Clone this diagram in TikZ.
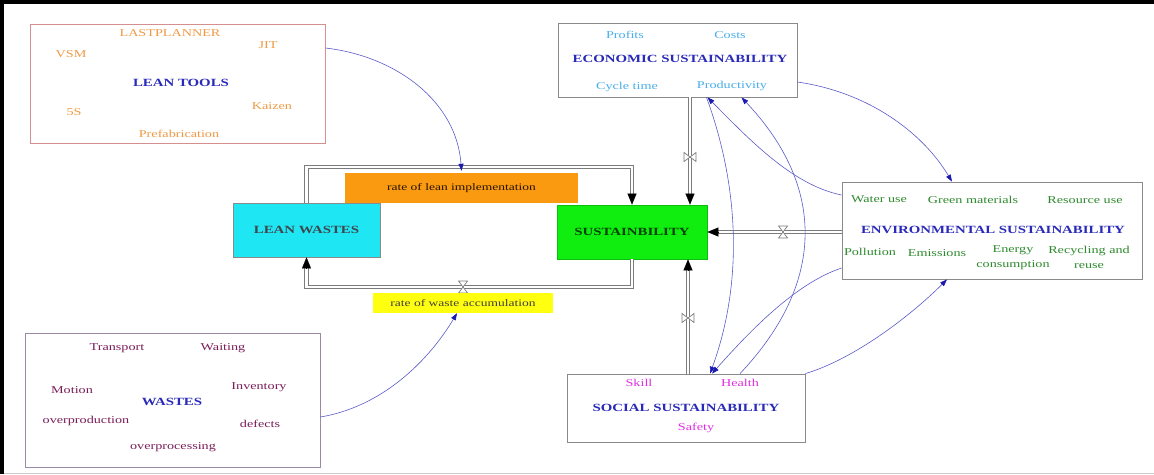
\documentclass[tikz,border=0pt]{standalone}
\usepackage{fontspec}
\setmainfont{Liberation Serif}[FakeStretch=1.35]
\usetikzlibrary{arrows.meta,calc}
\definecolor{titleblue}{HTML}{2A2AB8}
\definecolor{ltorange}{HTML}{EE9A45}
\definecolor{ltborder}{HTML}{D49090}
\definecolor{ecoblue}{HTML}{4AAEEA}
\definecolor{envgreen}{HTML}{2F8A2F}
\definecolor{socmag}{HTML}{E02FE0}
\definecolor{wpurple}{HTML}{7A1E5A}
\definecolor{wborder}{HTML}{9A8AA6}
\definecolor{boxgray}{HTML}{8A8A8A}
\definecolor{pipegray}{HTML}{7C7C7C}
\definecolor{linkblue}{HTML}{5A5AC8}
\definecolor{headblue}{HTML}{1A1AB0}
\definecolor{cyanfill}{HTML}{1EE6F2}
\definecolor{greenfill}{HTML}{10EE10}
\definecolor{orangefill}{HTML}{FA9A10}
\definecolor{yellowfill}{HTML}{FFFF10}
\tikzset{
  box/.style={draw=boxgray, line width=0.8pt, inner sep=0pt, fill=white},
  stock/.style={draw=boxgray, line width=0.8pt, inner sep=0pt, font=\fontsize{11}{12}\selectfont\bfseries},
  ttl/.style={font=\fontsize{11}{12}\selectfont\bfseries, text=titleblue, inner sep=1pt},
  item/.style={font=\fontsize{10.5}{15}\selectfont, inner sep=1pt, align=center},
  ratelbl/.style={inner sep=0pt, font=\fontsize{10}{12}\selectfont},
  pipe/.style={draw=pipegray, line width=1.1pt, double=white, double distance=2.6pt},
  pipehead/.style={-{Triangle[width=9pt,length=11pt]}, black, line width=0.1pt},
  link/.style={draw=linkblue, line width=0.6pt, -{Triangle[width=5pt,length=7pt,color=headblue]}},
  valve/.pic={\draw[pipegray, line width=0.7pt, fill=white] (-4.5,-6) -- (4.5,-6) -- (-4.5,6) -- (4.5,6) -- cycle;}
}
\begin{document}
\begin{tikzpicture}[x=1pt,y=-1pt]
\useasboundingbox (0,0) rectangle (1154,474);
% frame
\draw[black, line width=4pt] (2,474) -- (2,2) -- (1154,2);
\draw[gray!40, line width=0.6pt] (4,473) -- (1154,473);

% boxes
\node[box, draw=ltborder, minimum width=295pt, minimum height=119pt] (lt) at (177.5,83.5) {};
\node[box, minimum width=239pt, minimum height=74pt] (econ) at (677.5,60) {};
\node[box, minimum width=300pt, minimum height=97pt] (env) at (992,230.5) {};
\node[box, minimum width=238pt, minimum height=68pt] (soc) at (686,408) {};
\node[box, draw=wborder, minimum width=295pt, minimum height=134pt] (w) at (172.5,400.5) {};

% flow pipes
\coordinate (ctop) at (462,167);
\coordinate (cbot) at (463,287);
\node[stock, fill=cyanfill, text=black!80!cyan, minimum width=147pt, minimum height=54pt] (lw) at (306.5,230) {LEAN WASTES};
\node[stock, fill=greenfill, draw=greenfill!80!black, text=black!75!green, minimum width=150pt, minimum height=54pt] (sust) at (632,232) {SUSTAINBILITY};

\draw[pipe, shorten >=9pt] (lw.north) |- (ctop) -| (sust.north);
\draw[pipehead] ([yshift=11pt]sust.north) -- (sust.north);
\draw[pipe, shorten >=9pt] (sust.south) |- (cbot) -| (lw.south);
\draw[pipehead] ([yshift=-11pt]lw.south) -- (lw.south);
\pic at (cbot) {valve};

\coordinate (eo) at ([xshift=12.5pt]econ.south);
\draw[pipe, shorten >=9pt] (eo) -- (eo |- sust.north);
\draw[pipehead] ([yshift=11pt]eo |- sust.north) -- (eo |- sust.north);
\coordinate (ev) at (690,157);
\pic[rotate=90] at (ev) {valve};

\coordinate (so) at ([xshift=2pt]soc.north);
\draw[pipe, shorten >=9pt] (so) -- (so |- sust.south);
\draw[pipehead] ([yshift=-11pt]so |- sust.south) -- (so |- sust.south);
\coordinate (sv) at (688,318);
\pic[rotate=90] at (sv) {valve};

\coordinate (nv) at (env.west |- sust.east);
\draw[pipe, shorten >=9pt] (nv) -- (sust.east);
\draw[pipehead] ([xshift=11pt]sust.east) -- (sust.east);
\coordinate (envv) at (783,232);
\pic at (envv) {valve};

% rates
\node[ratelbl, fill=orangefill, minimum width=233pt, minimum height=30pt, text=black!85!orange] (rli) at (461.5,188) {rate of lean implementation};
\node[ratelbl, fill=yellowfill, minimum width=180pt, minimum height=20pt, text=black!85!yellow] (rwa) at (463,303) {rate of waste accumulation};

% lean tools texts
\node[ttl] (ltt) at (181,83) {LEAN TOOLS};
\node[item, text=ltorange] (lt1) at (170,33) {LASTPLANNER};
\node[item, text=ltorange] (lt2) at (268,45) {JIT};
\node[item, text=ltorange] (lt3) at (71,54) {VSM};
\node[item, text=ltorange] (lt4) at (74,112) {5S};
\node[item, text=ltorange] (lt5) at (272,106) {Kaizen};
\node[item, text=ltorange] (lt6) at (179,134) {Prefabrication};

% economic texts
\node[ttl] (ect) at (680,59) {ECONOMIC SUSTAINABILITY};
\node[item, text=ecoblue] (ec1) at (625,35) {Profits};
\node[item, text=ecoblue] (ec2) at (730,35) {Costs};
\node[item, text=ecoblue] (ec3) at (627,87) {Cycle time};
\node[item, text=ecoblue] (ec4) at (732,86) {Productivity};

% environmental texts
\node[ttl] (ent) at (993,230) {ENVIRONMENTAL SUSTAINABILITY};
\node[item, text=envgreen] (en1) at (879,199) {Water use};
\node[item, text=envgreen] (en2) at (973,200) {Green materials};
\node[item, text=envgreen] (en3) at (1085,200) {Resource use};
\node[item, text=envgreen] (en4) at (870,252) {Pollution};
\node[item, text=envgreen] (en5) at (937,253) {Emissions};
\node[item, text=envgreen] (en6) at (1013,258) {Energy\\consumption};
\node[item, text=envgreen] (en7) at (1089,257) {Recycling and\\reuse};

% social texts
\node[ttl] (sot) at (686,408) {SOCIAL SUSTAINABILITY};
\node[item, text=socmag] (so1) at (639,383) {Skill};
\node[item, text=socmag] (so2) at (740,383) {Health};
\node[item, text=socmag] (so3) at (696,428) {Safety};

% wastes texts
\node[ttl] (wt) at (172,402) {WASTES};
\node[item, text=wpurple] (w1) at (117,348) {Transport};
\node[item, text=wpurple] (w2) at (223,348) {Waiting};
\node[item, text=wpurple] (w3) at (72,390) {Motion};
\node[item, text=wpurple] (w4) at (259,387) {Inventory};
\node[item, text=wpurple] (w5) at (86,421) {overproduction};
\node[item, text=wpurple] (w6) at (260,424) {defects};
\node[item, text=wpurple] (w7) at (173,447) {overprocessing};

% influence links
\draw[link] ([yshift=35.5pt]lt.east) .. controls +(70,8) and +(-5,-70) .. ([yshift=2pt]rli.north);
\draw[link] ([yshift=-16.5pt]w.east) .. controls +(60,-10) and +(-30,50) .. ([xshift=-6pt]rwa.south);
\draw[link] ([yshift=-22pt]econ.east) .. controls +(70,10) and +(-30,-50) .. ([xshift=-40pt]env.north);
\draw[link] ([yshift=35.5pt]env.west) .. controls +(-50,-10) and +(40,40) .. ([xshift=30pt]econ.south);
\draw[link] ([yshift=-37.5pt]env.west) .. controls +(-45,15) and +(40,-45) .. ([xshift=26pt]soc.north);
\draw[link] (soc.north east) .. controls +(50,-15) and +(-35,35) .. ([xshift=-45pt]env.south);
\draw[link] ([xshift=29pt]econ.south) .. controls +(33,90) and +(33,-90) .. ([xshift=24pt]soc.north);
\draw[link] ([xshift=54pt]soc.north) .. controls +(85,-90) and +(85,90) .. ([xshift=64pt]econ.south);
\end{tikzpicture}
\end{document}
